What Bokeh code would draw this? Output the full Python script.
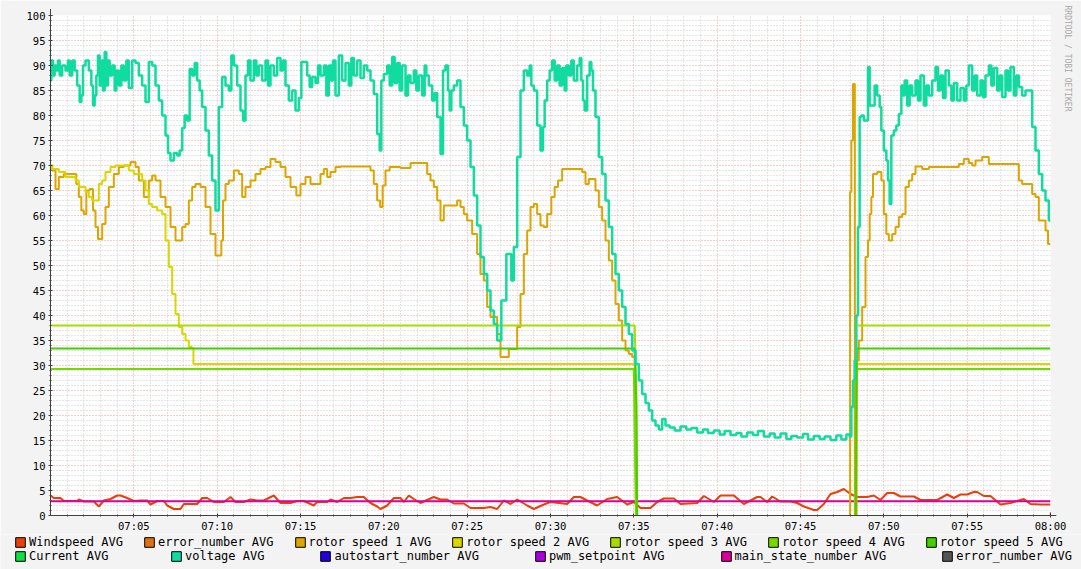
import math
from bokeh.plotting import figure
from bokeh.models import FixedTicker, Legend, LegendItem, Title, Arrow, NormalHead
from bokeh.embed import file_html
from bokeh.resources import INLINE

NaN = float("nan")

# ---------------- data (minutes after 07:00) ----------------
x_tick_minutes = [5, 10, 15, 20, 25, 30, 35, 40, 45, 50, 55, 60]
x_tick_labels = ["07:05", "07:10", "07:15", "07:20", "07:25", "07:30",
                 "07:35", "07:40", "07:45", "07:50", "07:55", "08:00"]
y_ticks = list(range(0, 101, 5))

voltage_t = [0.0, 0.1, 0.2, 0.3, 0.4, 0.5, 0.6, 0.8, 1.0, 1.1, 1.2, 1.4, 1.5, 1.7, 1.8, 1.9,
             2.0, 2.2, 2.4, 2.5, 2.6, 2.7, 2.8, 2.9, 3.0, 3.1, 3.2, 3.3, 3.4, 3.5, 3.6, 3.8,
             3.9, 4.0, 4.2, 4.3, 4.5, 4.6, 4.8, 5.0, 5.2, 5.4, 5.6, 5.8, 6.0, 6.2, 6.4, 6.6,
             6.8, 7.0, 7.1, 7.3, 7.5, 7.7, 7.8, 8.0, 8.1, 8.3, 8.4, 8.6, 8.7, 8.9, 9.0, 9.2,
             9.4, 9.6, 9.8, 10.0, 10.2, 10.4, 10.6, 10.8, 10.9, 11.1, 11.3, 11.5, 11.6, 11.8,
             11.9, 12.1, 12.3, 12.4, 12.6, 12.8, 13.0, 13.1, 13.3, 13.5, 13.7, 13.9, 14.0,
             14.2, 14.4, 14.6, 14.8, 15.0, 15.1, 15.3, 15.5, 15.6, 15.8, 16.0, 16.1, 16.3,
             16.5, 16.6, 16.8, 16.9, 17.0, 17.2, 17.4, 17.6, 17.8, 18.0, 18.1, 18.3, 18.5,
             18.7, 18.9, 19.1, 19.3, 19.5, 19.7, 19.8, 19.9, 20.1, 20.3, 20.4, 20.6, 20.7,
             20.9, 21.0, 21.2, 21.4, 21.5, 21.7, 21.9, 22.0, 22.2, 22.4, 22.5, 22.6, 22.8,
             23.0, 23.1, 23.3, 23.5, 23.6, 23.8, 23.9, 24.0, 24.1, 24.3, 24.5, 24.7, 24.9,
             25.1, 25.3, 25.5, 25.7, 25.9, 26.1, 26.3, 26.5, 26.7, 26.9, 27.0, 27.1, 27.3,
             27.4, 27.6, 27.7, 27.9, 28.1, 28.3, 28.5, 28.7, 28.8, 28.9, 29.1, 29.3, 29.5,
             29.6, 29.7, 29.9, 30.0, 30.2, 30.3, 30.5, 30.6, 30.8, 30.9, 31.0, 31.2, 31.3,
             31.5, 31.7, 31.8, 31.9, 32.0, 32.1, 32.3, 32.4, 32.5, 32.6, 32.8, 33.0, 33.2,
             33.4, 33.6, 33.8, 34.0, 34.2, 34.4, 34.6, 34.8, 35.0, 35.2, 35.4, 35.6, 35.8,
             36.0, 36.2, 36.4, 36.6, 36.8, 37.0, 37.3, 37.6, 38.0, 38.3, 38.6, 39.0, 39.3,
             39.6, 40.0, 40.3, 40.6, 41.0, 41.3, 41.6, 42.0, 42.3, 42.6, 43.0, 43.3, 43.6,
             44.0, 44.3, 44.6, 45.0, 45.3, 45.6, 46.0, 46.3, 46.6, 47.0, 47.3, 47.6, 47.9,
             48.0, 48.1, 48.2, 48.3, 48.4, 48.5, 48.6, 48.7, 48.9, 49.0, 49.1, 49.2, 49.4,
             49.5, 49.7, 49.8, 49.9, 50.1, 50.2, 50.3, 50.4, 50.5, 50.7, 50.8, 51.0, 51.1,
             51.2, 51.3, 51.5, 51.6, 51.8, 52.0, 52.1, 52.3, 52.5, 52.6, 52.8, 53.0, 53.2,
             53.3, 53.5, 53.6, 53.8, 54.0, 54.1, 54.3, 54.5, 54.7, 54.9, 55.0, 55.2, 55.4,
             55.5, 55.7, 55.9, 56.0, 56.2, 56.4, 56.5, 56.7, 56.9, 57.0, 57.2, 57.4, 57.5,
             57.7, 57.9, 58.0, 58.2, 58.4, 58.6, 58.8, 59.0, 59.2, 59.4, 59.6, 59.8, 60.0]
voltage_v = [87, 91, 88, 90, 89, 91, 88, 90, 89, 91, 88, 91, 89, 86, 82.7, 84,
             90, 91, 89, 86, 82, 84, 88, 92, 86, 91, 85, 92.7, 86, 91, 88, 90,
             85, 89, 86, 90, 87, 91, 85.5, 91, 90.5, 88, 86, 82.7, 90.7, 90, 86, 83,
             80, 76, 72.5, 71, 72.5, 72, 73, 77.5, 80, 79, 89.3, 88, 90.5, 87, 85, 81.7,
             77, 72, 67, 61, 81.7, 87.7, 86, 85, 92, 90, 86, 81, 79, 88,
             91, 87, 91, 88, 90, 87, 91, 86, 90, 88, 91.5, 89, 91,
             86, 83, 85, 81, 83.5, 90.7, 90.7, 88, 85.7, 87.7, 86.5, 90, 88,
             90, 84, 90, 87, 91, 84, 92, 87, 90.5, 86, 91.5, 88, 91,
             87.5, 90, 89, 87, 84.3, 76.3, 73, 87, 88.3, 90, 86, 91.7, 86.5,
             90.5, 85, 90, 84, 88, 86.5, 89, 85, 88, 84, 90, 88, 86,
             83, 84.5, 79.7, 72.3, 89, 90, 85, 81, 85, 86, 87, 81.7, 78,
             75, 69.7, 64, 58, 51.7, 48.3, 45, 41, 38.3, 35, 35, 43, 43,
             52.3, 52.3, 47, 53.7, 71.7, 85, 89, 88, 90, 86, 85, 78, 73,
             77.7, 83, 87, 89, 91, 87, 90, 86, 89.5, 85, 90, 88, 91,
             87, 90, 91.5, 87, 83, 81, 88, 90.7, 89, 85, 79.7, 71.7, 68.3,
             63, 57.7, 52.3, 48.3, 45, 41.7, 38.3, 36.3, 33, 30.3, 27, 24.3, 22.5,
             21, 19, 18, 17.2, 19.3, 18, 17.6, 17, 17.8, 17.2, 17.5, 16.6, 17.2,
             16.5, 17, 16.2, 16.9, 16.1, 16.5, 15.8, 16.6, 16.1, 16.9, 15.8, 16.4, 15.6,
             16.4, 15.3, 15.9, 15.6, 16.3, 15.2, 15.9, 15.3, 15.8, 15.1, 16.0, 15.2, 16.2,
             15.8, 21.7, 27, 31, 40, 57.7, 79.7, 80, 79, 79, 89.7, 82, 82,
             86, 84, 81.7, 77, 73, 71, 67, 62.3, 76, 77, 78, 80.3, 86,
             84, 87, 82, 86, 84, 87, 83, 88, 82, 86, 84, 87, 89.7,
             85, 88, 83.5, 89, 86, 83, 86.5, 83, 85.5, 83, 86, 90, 85,
             88, 84, 87, 83.7, 88, 90, 86, 89.5, 85, 88, 83.7, 89, 85,
             89.7, 84, 88, 85.7, 84, 85, 85, 77.7, 73, 68.3, 65, 63, 59]

rotor1_t = [0.0, 0.2, 0.4, 0.6, 1.0, 1.5, 1.6, 1.8, 1.9, 2.1, 2.2, 2.5, 2.6, 2.8, 2.9, 3.0,
            3.2, 3.4, 3.6, 4.0, 4.2, 4.6, 5.0, 5.2, 5.4, 5.8, 6.0, 6.2, 6.4, 6.8, 7.0, 7.4,
            7.6, 7.8, 8.0, 8.2, 8.4, 8.6, 8.8, 9.2, 9.4, 9.8, 10.0, 10.2, 10.3, 10.4, 10.6,
            10.8, 11.2, 11.4, 11.6, 11.8, 12.2, 12.4, 12.8, 13.0, 13.4, 13.6, 14.0, 14.2,
            14.6, 14.9, 15.1, 15.5, 15.7, 16.1, 16.3, 16.5, 16.7, 16.9, 17.3, 17.5, 19.1,
            19.3, 19.5, 19.7, 19.86, 20.0, 20.2, 20.5, 21.5, 21.7, 22.5, 22.7, 22.9, 23.1,
            23.3, 23.5, 23.7, 24.3, 24.5, 24.7, 24.9, 25.1, 25.5, 25.7, 25.9, 26.1, 26.3,
            26.5, 26.7, 26.9, 27.1, 27.4, 27.6, 27.9, 28.1, 28.3, 28.5, 28.7, 28.9, 29.1,
            29.3, 29.5, 29.7, 29.9, 30.2, 30.3, 30.6, 30.8, 31.8, 32.0, 32.2, 32.4, 32.6,
            32.8, 33.0, 33.2, 33.4, 33.6, 33.8, 34.0, 34.2, 34.4, 34.6, 34.8, 35.0, 35.05,
            47.95, 48.0, 48.1, 48.2, 48.25, 48.27, 48.33, 48.4, 48.6, 48.8, 49.0, 49.1,
            49.2, 49.3, 49.4, 49.8, 49.9, 50.1, 50.2, 50.4, 50.6, 50.8, 51.0, 51.2, 51.4,
            51.6, 51.8, 52.0, 52.6, 52.8, 54.4, 54.6, 55.0, 55.2, 55.4, 55.6, 56.2, 56.4,
            58.0, 58.2, 58.4, 58.8, 59.0, 59.2, 59.4, 59.6, 59.8, 59.9, 60.0]
rotor1_v = [70, 69, 65.3, 67.7, 68.3, 68.3, 66.3, 63.7, 61, 60.3, 65, 65.3, 61, 57.7, 55.3, 55.3,
            58.3, 61.7, 65.7, 68.3, 69.7, 70, 70.7, 69.7, 67, 63.7, 67, 68, 67, 63.7, 61.7, 57.7,
            55, 55, 57.7, 58.3, 63, 65.7, 66.3, 65.7, 61.7, 56.3, 52, 52, 55, 63, 66.3,
            67, 69, 68.3, 63.7, 65.7, 67, 68.3, 69.3, 69.7, 71.3, 70.7, 69.7, 67.7,
            65.7, 64, 66.3, 67.7, 66.3, 66.3, 68.3, 69.3, 67.7, 68.7, 69.7, 69.8, 69.8,
            69, 66.3, 63, 61.7, 66, 69, 69.7, 69.5, 70.5, 70.5, 68.3, 67, 65.7,
            63, 59, 62, 62, 63, 61.7, 60.3, 59, 56.3, 52.3, 48.3, 47, 41.7,
            39.7, 39.7, 36.3, 31.7, 31.7, 33.3, 33.3, 37.7, 44.3, 52.3, 57, 61.7, 62.3,
            60.3, 58, 57.7, 60.3, 63.7, 65.7, 67, 69.3, 69.3, 68.7, 66.3, 67.3, 67.3,
            65, 61.7, 59, 55, 51, 47, 42.3, 39, 35, 33, 32.3, 31.7, NaN,
            0, 64.7, 75, 86.3, 86.3, 0, 0, 31, 35, 41.7, 51.7, 55,
            60.3, 63.7, 68.3, 68.7, 67, 60.3, 56.3, 55, 56.3, 57.7, 59.7, 60.3, 65.7,
            67, 68.3, 69.8, 69.3, 69.7, 69.7, 70.3, 71.3, 70.5, 70, 71, 71.7, 70.3,
            70.3, 67, 66.3, 66.3, 64.3, 63.7, 59, 59, 57, 54.3, 54.3]

rotor2_t = [0.0, 0.2, 0.8, 1.0, 1.4, 1.6, 1.8, 2.0, 2.2, 2.4, 2.6, 2.8, 3.0, 3.2, 3.4, 3.8,
            4.0, 4.6, 4.8, 5.2, 5.4, 5.6, 5.8, 6.0, 6.2, 6.6, 6.8, 7.0, 7.2, 7.4, 7.6, 7.8,
            8.0, 8.2, 8.4, 8.55, 8.6, 35.1, 35.12, 48.35, 60.0]
rotor2_v = [70, 69.3, 68.7, 67.7, 67.7, 67, 65.7, 65.7, 64.7, 63.7, 63, 63, 66.3, 67, 68.7, 69.7,
            70, 70, 69, 68.3, 68.3, 67, 65, 62.3, 61.7, 61, 60.3, 55, 49.7, 44.3, 40.3, 37.7,
            36.3, 35, 33.7, 33.5, 30.3, 30.3, NaN, 30.3, 30.3]

rotor3_t = [0.0, 35.05, 35.15, 35.2, 35.22, 48.45, 60.0]
rotor3_v = [38, 38, 25, 0, NaN, 38, 38]
rotor4_t = [0.0, 35.0, 35.12, 35.14, 48.3, 48.35, 60.0]
rotor4_v = [29.3, 29.3, 0, NaN, 0, 29.3, 29.3]
rotor5_t = [0.0, 35.05, 35.15, 35.2, 35.22, 48.32, 48.38, 60.0]
rotor5_v = [33.4, 33.4, 22, 0, NaN, 0, 33.4, 33.4]

wind_t = [0.0, 0.2, 0.6, 0.8, 1.6, 1.7, 2.0, 2.6, 2.9, 3.2, 3.6, 4.0, 4.2, 4.6, 5.0, 5.4,
          5.8, 6.0, 6.4, 6.8, 7.0, 7.4, 7.8, 8.0, 8.4, 8.8, 9.1, 9.4, 9.8, 10.4, 10.8, 11.1,
          11.6, 12.0, 12.4, 12.8, 13.4, 13.8, 14.4, 14.8, 15.2, 15.8, 16.0, 16.6, 16.8, 17.2,
          17.6, 18.0, 18.4, 18.8, 19.2, 19.6, 19.8, 20.2, 20.6, 21.0, 21.2, 21.5, 21.8, 22.2,
          23.0, 23.4, 23.8, 24.2, 24.8, 25.2, 26.0, 26.4, 26.8, 27.2, 27.6, 28.0, 28.6, 29.0,
          29.6, 30.0, 31.0, 31.4, 31.8, 32.2, 32.8, 33.4, 34.0, 34.6, 35.0, 35.4, 36.0, 36.4,
          36.8, 37.4, 37.8, 38.8, 39.2, 39.8, 40.2, 41.0, 41.6, 42.4, 42.6, 43.0, 43.3, 43.8,
          44.4, 44.8, 45.2, 45.8, 46.0, 46.4, 46.8, 47.2, 47.6, 48.0, 48.4, 49.0, 49.4, 49.8,
          50.2, 50.6, 51.0, 51.8, 52.2, 52.8, 53.2, 53.8, 54.2, 54.6, 55.0, 55.4, 55.6, 56.0,
          56.4, 57.0, 57.6, 58.4, 58.8, 59.4, 60.0]
wind_v = [4.0, 3.5, 3.5, 2.9, 2.9, 3.2, 2.8, 2.8, 1.8, 3.0, 3.3, 4.0, 4.0, 3.5, 2.9, 3.0,
          3.0, 2.2, 2.9, 2.9, 2.0, 1.3, 1.3, 2.3, 2.3, 2.3, 3.5, 3.5, 2.7, 2.7, 3.7, 2.7,
          2.7, 3.2, 3.0, 3.0, 4.0, 2.5, 2.5, 2.9, 2.9, 2.0, 2.7, 2.7, 3.2, 2.7,
          3.5, 3.5, 3.7, 3.7, 2.5, 1.8, 1.3, 2.0, 3.5, 3.5, 2.7, 4.0, 3.3, 2.5,
          3.7, 3.2, 3.2, 2.4, 2.4, 1.5, 1.5, 1.7, 1.3, 3.0, 2.3, 3.2, 2.0, 1.3,
          2.2, 2.7, 2.3, 3.7, 3.7, 3.0, 2.0, 3.3, 3.7, 2.2, 2.7, 1.5, 1.5, 2.7,
          3.4, 3.4, 2.3, 2.5, 3.9, 2.7, 4.0, 4.0, 2.3, 3.7, 3.7, 2.7, 3.8, 2.8,
          2.8, 2.5, 1.8, 1.1, 1.1, 2.3, 4.3, 4.7, 5.3, 4.3, 3.7, 3.7, 4.0, 3.1,
          4.5, 4.5, 3.8, 3.8, 3.1, 3.1, 3.1, 4.2, 3.5, 4.2, 4.2, 4.7, 4.7, 3.9,
          3.9, 2.2, 2.5, 3.3, 2.3, 2.2, 2.2]

main_state_t = [0.0, 60.0]
main_state_v = [2.85, 2.85]

series_names = ["Windspeed AVG", "error_number AVG", "rotor speed 1 AVG", "rotor speed 2 AVG",
                "rotor speed 3 AVG", "rotor speed 4 AVG", "rotor speed 5 AVG",
                "Current AVG", "voltage AVG", "autostart_number AVG", "pwm_setpoint AVG",
                "main_state_number AVG", "error_number AVG"]
series_colors = ["#E8400C", "#E07010", "#DDA500", "#D8D800", "#A8DC00", "#77D800", "#44D000",
                 "#11DD44", "#10DCA0", "#2200DD", "#AA00DD", "#DD0099", "#555555"]

BG = "#F3F3F3"

# ---------------- main chart ----------------
p = figure(frame_width=1000, frame_height=500, x_range=(0, 60), y_range=(0, 100),
           output_backend="svg", toolbar_location=None,
           min_border_left=50, min_border_right=31, min_border_top=15, min_border_bottom=17,
           background_fill_color="#FFFFFF", border_fill_color=BG)
p.outline_line_color = None

minor_x = [m for m in range(0, 61) if m % 5 != 0]
minor_y = [v for v in range(0, 101) if v % 5 != 0]
p.xgrid.ticker = FixedTicker(ticks=x_tick_minutes, minor_ticks=minor_x)
p.ygrid.ticker = FixedTicker(ticks=y_ticks[1:], minor_ticks=minor_y)
for g in (p.xgrid, p.ygrid):
    g.grid_line_color = "#EE9C9C"
    g.grid_line_alpha = 1.0
    g.grid_line_dash = "1 2"
    g.minor_grid_line_color = "#CDCDCD"
    g.minor_grid_line_alpha = 1.0
    g.minor_grid_line_dash = "1 2"

p.xaxis.ticker = FixedTicker(ticks=x_tick_minutes, minor_ticks=minor_x)
p.xaxis.major_label_overrides = {m: lab for m, lab in zip(x_tick_minutes, x_tick_labels)}
p.yaxis.ticker = FixedTicker(ticks=y_ticks, minor_ticks=minor_y)
for ax in (p.xaxis, p.yaxis):
    ax.axis_line_color = "#404040"
    ax.major_tick_line_color = "#404040"
    ax.minor_tick_line_color = "#404040"
    ax.major_tick_in = 2
    ax.major_tick_out = 2
    ax.minor_tick_in = 1
    ax.minor_tick_out = 1
    ax.major_label_text_font = "DejaVu Sans Mono"
    ax.major_label_text_font_size = "10.5px"
    ax.major_label_text_color = "#000000"
p.xaxis.major_label_standoff = 2
p.yaxis.major_label_standoff = 3

lw = 2
p.line(wind_t, wind_v, color=series_colors[0], line_width=lw)
p.line(main_state_t, main_state_v, color=series_colors[11], line_width=lw)
p.step(rotor1_t, rotor1_v, color=series_colors[2], line_width=lw, mode="center")
p.step(rotor2_t, rotor2_v, color=series_colors[3], line_width=lw, mode="center")
p.line(rotor3_t, rotor3_v, color=series_colors[4], line_width=lw)
p.line(rotor4_t, rotor4_v, color=series_colors[5], line_width=lw)
p.line(rotor5_t, rotor5_v, color=series_colors[6], line_width=lw)
p.step(voltage_t, voltage_v, color=series_colors[8], line_width=2.5, mode="center")

# axis arrows
head_kw = dict(size=6, fill_color="#800000", line_color="#800000")
p.add_layout(Arrow(x_start=0, y_start=100, x_end=0, y_end=101.3,
                   line_color="#404040", line_width=1, end=NormalHead(**head_kw)))
p.add_layout(Arrow(x_start=60, y_start=0, x_end=60.35, y_end=0,
                   line_color="#404040", line_width=1, end=NormalHead(**head_kw)))

p.add_layout(Title(text="RRDTOOL / TOBI OETIKER", text_font="DejaVu Sans Mono",
                   text_font_size="8px", text_color="#A8A8A8", text_font_style="normal",
                   align="left", standoff=21, offset=-10, vertical_align="top"), "right")

# ---------------- legend strip (separate root, full-width frame) ----------------
q = figure(width=1081, height=37, x_range=(0, 1), y_range=(0, 1),
           output_backend="svg", toolbar_location=None,
           x_axis_location=None, y_axis_location=None,
           min_border_left=0, min_border_right=0, min_border_top=0, min_border_bottom=0,
           background_fill_color=BG, border_fill_color=BG)
q.outline_line_color = None
q.grid.visible = False

items = []
for name, col in zip(series_names, series_colors):
    r = q.quad(left=[NaN], right=[NaN], bottom=[NaN], top=[NaN],
               fill_color=col, line_color="#000000", line_width=1)
    items.append(LegendItem(label=name, renderers=[r]))

common = dict(orientation="horizontal", glyph_width=12, glyph_height=12, label_standoff=3,
              label_text_font="DejaVu Sans Mono", label_text_font_size="12px",
              label_height=12, padding=0, margin=0, border_line_color=None,
              background_fill_alpha=0, label_text_color="#000000")
leg1 = Legend(items=items[:7], location=(14, 22), spacing=20, **common)
leg2a = Legend(items=items[7:8], location=(14, 8), spacing=56, **common)
leg2b = Legend(items=items[8:], location=(170, 8), spacing=55, **common)
for lg in (leg1, leg2a, leg2b):
    q.add_layout(lg, "center")

html = file_html([p, q], INLINE)
open("out.html", "w").write(html)
